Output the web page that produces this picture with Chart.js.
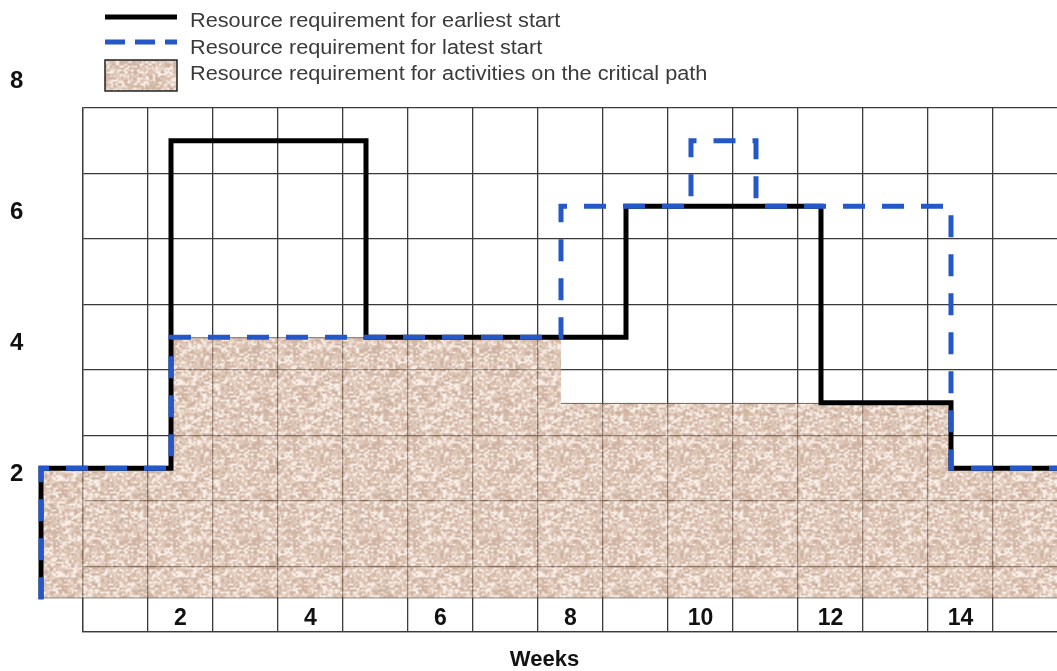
<!DOCTYPE html>
<html>
<head>
<meta charset="utf-8">
<script src="https://cdn.jsdelivr.net/npm/chart.js@4.4.1/dist/chart.umd.min.js"></script>
<style>
  html, body { margin: 0; padding: 0; background: #ffffff; }
  canvas { display: block; }
</style>
</head>
<body>
<canvas id="c" width="1057" height="671"></canvas>
<script>
// ---------------- DATA ----------------
// Step points: week at which a level starts, and the level (resources)
const earliestWeeks  = [0, 0, 2, 5, 9, 12, 14, 16];
const earliestValues = [0, 2, 7, 4, 6, 3, 2, 2];

const latestWeeks    = [0, 0, 2, 8, 10, 11, 14, 16];
const latestValues   = [0, 2, 4, 6, 7, 6, 2, 2];

// Critical-path requirement per week (week n covers n-1 .. n)
const criticalWeeks  = [1, 2, 3, 4, 5, 6, 7, 8, 9, 10, 11, 12, 13, 14, 15, 16];
const criticalValues = [2, 2, 4, 4, 4, 4, 4, 4, 3, 3, 3, 3, 3, 3, 2, 2];

const weekTickLabels     = [2, 4, 6, 8, 10, 12, 14];
const resourceTickLabels = [2, 4, 6, 8];

const seriesLabels = [
  'Resource requirement for earliest start',
  'Resource requirement for latest start',
  'Resource requirement for activities on the critical path'
];
const axisTitle = 'Weeks';

// ---------------- STYLE ----------------
const FONT = "'Liberation Sans', Arial, Helvetica, sans-serif";
const GRID = '#3a3a3a';

function makeTexture() {
  const W = 120, H = 96;
  const cv = document.createElement('canvas');
  cv.width = W; cv.height = H;
  const c = cv.getContext('2d');
  const img = c.createImageData(W, H);
  const hash = (i, j) => { const s = Math.sin(i * 127.1 + j * 311.7) * 43758.5453; return s - Math.floor(s); };
  const noise = (x, y, cw, ch, seed) => {
    const gx = W / cw, gy = H / ch;
    const fx = x / cw, fy = y / ch;
    const i0 = Math.floor(fx), j0 = Math.floor(fy);
    let tx = fx - i0, ty = fy - j0;
    tx = tx * tx * (3 - 2 * tx); ty = ty * ty * (3 - 2 * ty);
    const h = (i, j) => hash(((i % gx) + gx) % gx + seed, ((j % gy) + gy) % gy + seed * 3);
    const a = h(i0, j0), b = h(i0 + 1, j0), cc = h(i0, j0 + 1), d = h(i0 + 1, j0 + 1);
    return (a * (1 - tx) + b * tx) * (1 - ty) + (cc * (1 - tx) + d * tx) * ty;
  };
  const mix = (p, q, t) => [p[0] + (q[0] - p[0]) * t, p[1] + (q[1] - p[1]) * t, p[2] + (q[2] - p[2]) * t];
  const dark = [178, 134, 106], base = [208, 170, 146], light = [242, 228, 216];
  for (let y = 0; y < H; y++) {
    for (let x = 0; x < W; x++) {
      const n = 0.55 * noise(x, y, 3, 2, 1) + 0.45 * noise(x, y, 2, 2, 7);
      const t = Math.min(1, Math.max(0, (n - 0.5) * 2.0 + 0.52));
      const col = t < 0.5 ? mix(dark, base, t * 2) : mix(base, light, (t - 0.5) * 2);
      const k = (y * W + x) * 4;
      img.data[k] = col[0]; img.data[k + 1] = col[1]; img.data[k + 2] = col[2];
      img.data[k + 3] = 160;
    }
  }
  c.putImageData(img, 0, 0);
  return c.createPattern(cv, 'repeat');
}
const texture = makeTexture();

// Legend drawn in the canvas, one item per row
const stackLegend = {
  id: 'stackLegend',
  afterDraw(chart, args, o) {
    const ctx = chart.ctx;
    ctx.save();
    chart.data.datasets.forEach((ds, i) => {
      const r = o.rows[i];
      if (ds.type === 'bar') {
        ctx.fillStyle = '#ffffff';
        ctx.fillRect(o.x0, r.top, o.x1 - o.x0, r.h);
        ctx.fillStyle = ds.backgroundColor;
        ctx.fillRect(o.x0, r.top, o.x1 - o.x0, r.h);
        ctx.strokeStyle = '#222222';
        ctx.lineWidth = 1.5;
        ctx.setLineDash([]);
        ctx.strokeRect(o.x0, r.top, o.x1 - o.x0, r.h);
      } else {
        ctx.beginPath();
        ctx.strokeStyle = ds.borderColor;
        ctx.lineWidth = ds.borderWidth;
        ctx.lineCap = 'butt';
        ctx.setLineDash(ds.borderDash ? o.dash : []);
        ctx.moveTo(o.x0, r.y);
        ctx.lineTo(o.x1, r.y);
        ctx.stroke();
        ctx.setLineDash([]);
      }
      ctx.fillStyle = o.color;
      ctx.font = o.size + 'px ' + FONT;
      ctx.textAlign = 'left';
      ctx.textBaseline = 'alphabetic';
      ctx.save();
      ctx.translate(o.textX, r.base);
      ctx.scale(o.stretch, 1);
      ctx.fillText(ds.label, 0, 0);
      ctx.restore();
    });
    ctx.restore();
  }
};

const toPoints = (xs, ys) => xs.map((x, i) => ({ x: x, y: ys[i] }));

// visible week window of the plot grid (left grid edge .. canvas edge)
const X_VIEW_MIN = 0.646, X_VIEW_MAX = 15.631;

const chart = new Chart(document.getElementById('c'), {
  type: 'line',
  data: {
    datasets: [
      {
        label: seriesLabels[0],
        data: toPoints(earliestWeeks, earliestValues),
        stepped: true,
        borderColor: '#000000',
        borderWidth: 5,
        borderJoinStyle: 'miter',
        borderCapStyle: 'butt',
        pointRadius: 0,
        fill: false,
        clip: false,
        order: 1,
        xAxisID: 'x', yAxisID: 'y'
      },
      {
        label: seriesLabels[1],
        data: toPoints(latestWeeks, latestValues),
        stepped: true,
        borderColor: '#2457c8',
        borderWidth: 5,
        borderDash: [22, 17],
        borderJoinStyle: 'miter',
        borderCapStyle: 'butt',
        pointRadius: 0,
        fill: false,
        clip: false,
        order: 0,
        xAxisID: 'x', yAxisID: 'y'
      },
      {
        type: 'bar',
        label: seriesLabels[2],
        data: criticalWeeks.map((w, i) => ({ x: w - 0.5, y: criticalValues[i] })),
        backgroundColor: texture,
        borderColor: '#3b2e28',
        borderWidth: { top: 1, right: 0, bottom: 1, left: 0 },
        borderSkipped: false,
        inflateAmount: 0,
        barPercentage: 1,
        categoryPercentage: 1,
        clip: false,
        order: 2,
        xAxisID: 'x', yAxisID: 'y'
      }
    ]
  },
  options: {
    responsive: false,
    devicePixelRatio: 1,
    animation: false,
    events: [],
    layout: { padding: { top: 108, left: 32, right: 0, bottom: 0 } },
    plugins: {
      legend: { display: false },
      tooltip: { enabled: false },
      title: {
        display: true,
        text: axisTitle,
        position: 'bottom',
        color: '#111111',
        font: { family: FONT, size: 22, weight: 'bold', lineHeight: 1 },
        padding: 0
      },
      stackLegend: {
        x0: 105, x1: 177, textX: 190, size: 20, stretch: 1.085,
        color: '#3a3a3a', dash: [20, 10],
        rows: [ { y: 17, base: 27.3 }, { y: 42, base: 54 }, { top: 60, h: 31, base: 80 } ]
      }
    },
    scales: {
      x: {
        type: 'linear',
        display: false,
        offset: false,
        bounds: 'data',
        grid: { offset: false },
        afterDataLimits: (s) => { s.min = X_VIEW_MIN; s.max = X_VIEW_MAX; },
        afterBuildTicks: (s) => { s.ticks = criticalWeeks.map(w => ({ value: w })); }
      },
      xg: {
        type: 'linear',
        axis: 'x',
        position: 'bottom',
        offset: false,
        min: 0.5,
        max: 15.485,
        afterBuildTicks: (s) => {
          const t = [];
          for (let v = 1; v <= 14; v++) t.push({ value: v });
          s.ticks = t;
        },
        afterFit: (s) => { s.height = 17; },
        grid: { offset: true, color: GRID, lineWidth: 1.3, drawTicks: false },
        border: { display: true, color: GRID, width: 1.3 },
        ticks: {
          mirror: true,
          padding: 0,
          autoSkip: false,
          maxRotation: 0,
          color: '#111111',
          font: { family: FONT, size: 23, weight: 'bold' },
          callback: (v) => weekTickLabels.includes(v) ? String(v) : ''
        }
      },
      y: {
        type: 'linear',
        position: 'left',
        min: -0.5,
        max: 7.5,
        afterBuildTicks: (s) => {
          const t = [];
          for (let v = 0; v <= 8; v++) t.push({ value: v });
          s.ticks = t;
        },
        afterFit: (s) => { s.width = 51; },
        grid: { offset: true, color: GRID, lineWidth: 1.3, drawTicks: false },
        border: { display: true, color: GRID, width: 1.3 },
        ticks: {
          mirror: true,
          padding: -73,
          labelOffset: 6.5,
          autoSkip: false,
          color: '#111111',
          font: { family: FONT, size: 24, weight: 'bold' },
          callback: (v) => resourceTickLabels.includes(v) ? String(v) : ''
        }
      }
    }
  },
  plugins: [stackLegend]
});
</script>
</body>
</html>
